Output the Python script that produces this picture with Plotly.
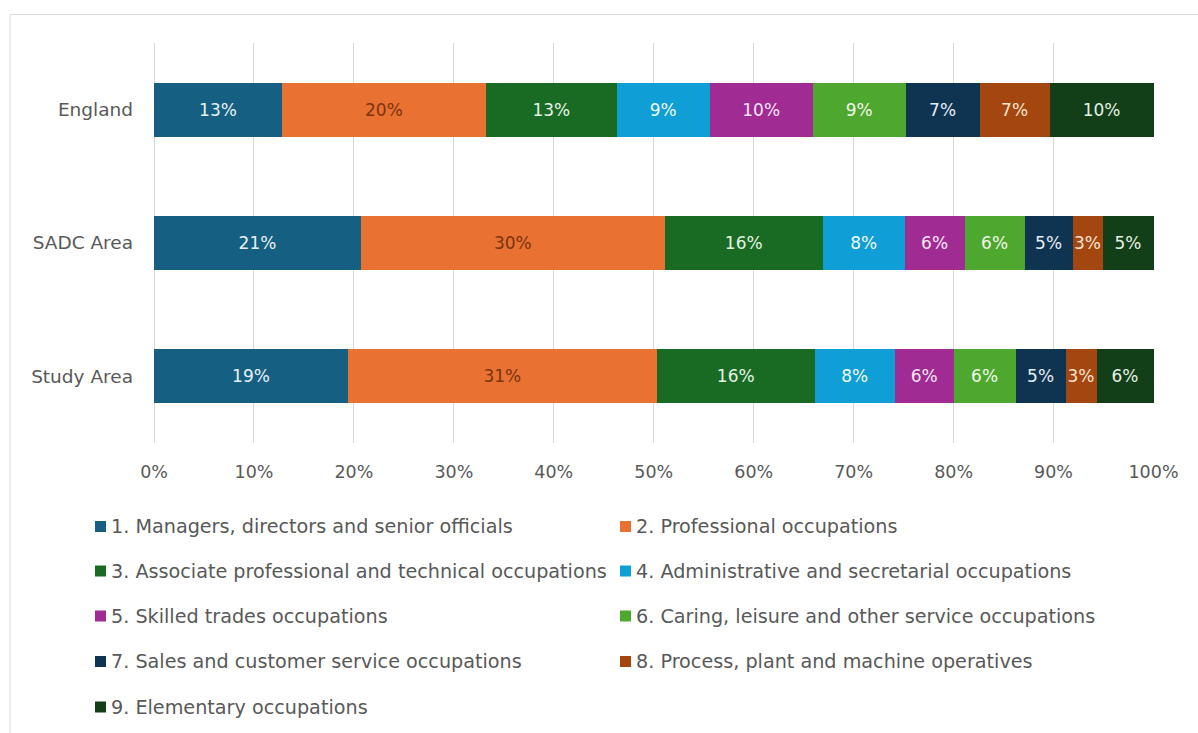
import plotly.graph_objects as go

# Areas shown as bars (top to bottom)
areas = ["England", "SADC Area", "Study Area"]

# Occupation groups (SOC major groups)
occupations = [
    "1. Managers, directors and senior officials",
    "2. Professional occupations",
    "3. Associate professional and technical occupations",
    "4. Administrative and secretarial occupations",
    "5. Skilled trades occupations",
    "6. Caring, leisure and other service occupations",
    "7. Sales and customer service occupations",
    "8. Process, plant and machine operatives",
    "9. Elementary occupations",
]

# Share of residents in employment by occupation (%), per area
england = [12.8, 20.4, 13.1, 9.3, 10.3, 9.3, 7.4, 7.0, 10.4]
sadc_area = [20.7, 30.4, 15.8, 8.2, 6.0, 6.0, 4.8, 3.0, 5.1]
study_area = [19.4, 30.9, 15.8, 8.0, 5.9, 6.2, 5.0, 3.1, 5.7]

x_ticks = [0, 0.1, 0.2, 0.3, 0.4, 0.5, 0.6, 0.7, 0.8, 0.9, 1.0]

colors = ["#156082", "#E97132", "#196B24", "#0F9ED5", "#A02B93",
          "#4EA72E", "#0E3452", "#A3460F", "#123F17"]
label_colors = ["#e8f0f5", "#7a3410", "#e6f2e6", "#f0f8fc", "#f8e6f5",
                "#eef8ea", "#e6edf3", "#fbe3cf", "#e6efe6"]

FONT = "DejaVu Sans"
GREY = "#595959"

fig = go.Figure()
for i, occ in enumerate(occupations):
    vals = [england[i] / 100, sadc_area[i] / 100, study_area[i] / 100]
    fig.add_trace(go.Bar(
        y=areas,
        x=vals,
        name=occ,
        orientation="h",
        marker=dict(color=colors[i], line=dict(width=0)),
        texttemplate="%{x:.0%}",
        textposition="inside",
        insidetextanchor="middle",
        textangle=0,
        textfont=dict(family=FONT, size=17, color=label_colors[i]),
        constraintext="none",
        showlegend=False,
        hoverinfo="skip",
    ))

# Legend built as two columns of colour swatches and labels
L, T, W, H = 154, 43, 1000, 400
row_y = [526.5, 571, 616, 661.5, 707]
col_x = [95, 620]
shapes = []
annotations = []
for i, occ in enumerate(occupations):
    r, c = divmod(i, 2)
    cx, cy = col_x[c], row_y[r]
    shapes.append(dict(
        type="rect", xref="paper", yref="paper",
        x0=(cx - L) / W, x1=(cx + 11 - L) / W,
        y0=(T + H - (cy + 5.5)) / H, y1=(T + H - (cy - 5.5)) / H,
        fillcolor=colors[i], line=dict(width=0),
    ))
    annotations.append(dict(
        xref="paper", yref="paper",
        x=(cx + 14 - L) / W, y=(T + H - cy) / H,
        xanchor="left", yanchor="middle",
        text=occ, showarrow=False,
        font=dict(family=FONT, size=19.2, color=GREY),
    ))

# Outer frame of the chart area
shapes.append(dict(
    type="rect", xref="paper", yref="paper",
    x0=(10 - L) / W, x1=(1260 - L) / W,
    y0=(T + H - 760) / H, y1=(T + H - 14.5) / H,
    line=dict(color="#d9d9d9", width=1), fillcolor="rgba(0,0,0,0)",
    layer="below",
))

fig.update_layout(
    width=1198, height=733,
    margin=dict(l=L, r=1198 - L - W, t=T, b=733 - T - H),
    barmode="stack",
    bargap=0.595,
    paper_bgcolor="white",
    plot_bgcolor="white",
    shapes=shapes,
    annotations=annotations,
    xaxis=dict(
        range=[0, 1.0005],
        tickvals=x_ticks,
        tickformat=".0%",
        showgrid=True, gridcolor="#d9d9d9", gridwidth=1,
        zeroline=True, zerolinecolor="#d9d9d9", zerolinewidth=1,
        showline=False, ticks="",
        tickfont=dict(family=FONT, size=17.5, color=GREY),
        ticklabelstandoff=16,
        fixedrange=True,
    ),
    yaxis=dict(
        categoryorder="array",
        categoryarray=areas[::-1],
        showgrid=False, zeroline=False, showline=False, ticks="",
        tickfont=dict(family=FONT, size=18.5, color=GREY),
        ticklabelstandoff=20,
        fixedrange=True,
    ),
)

fig.write_html("out.html")
